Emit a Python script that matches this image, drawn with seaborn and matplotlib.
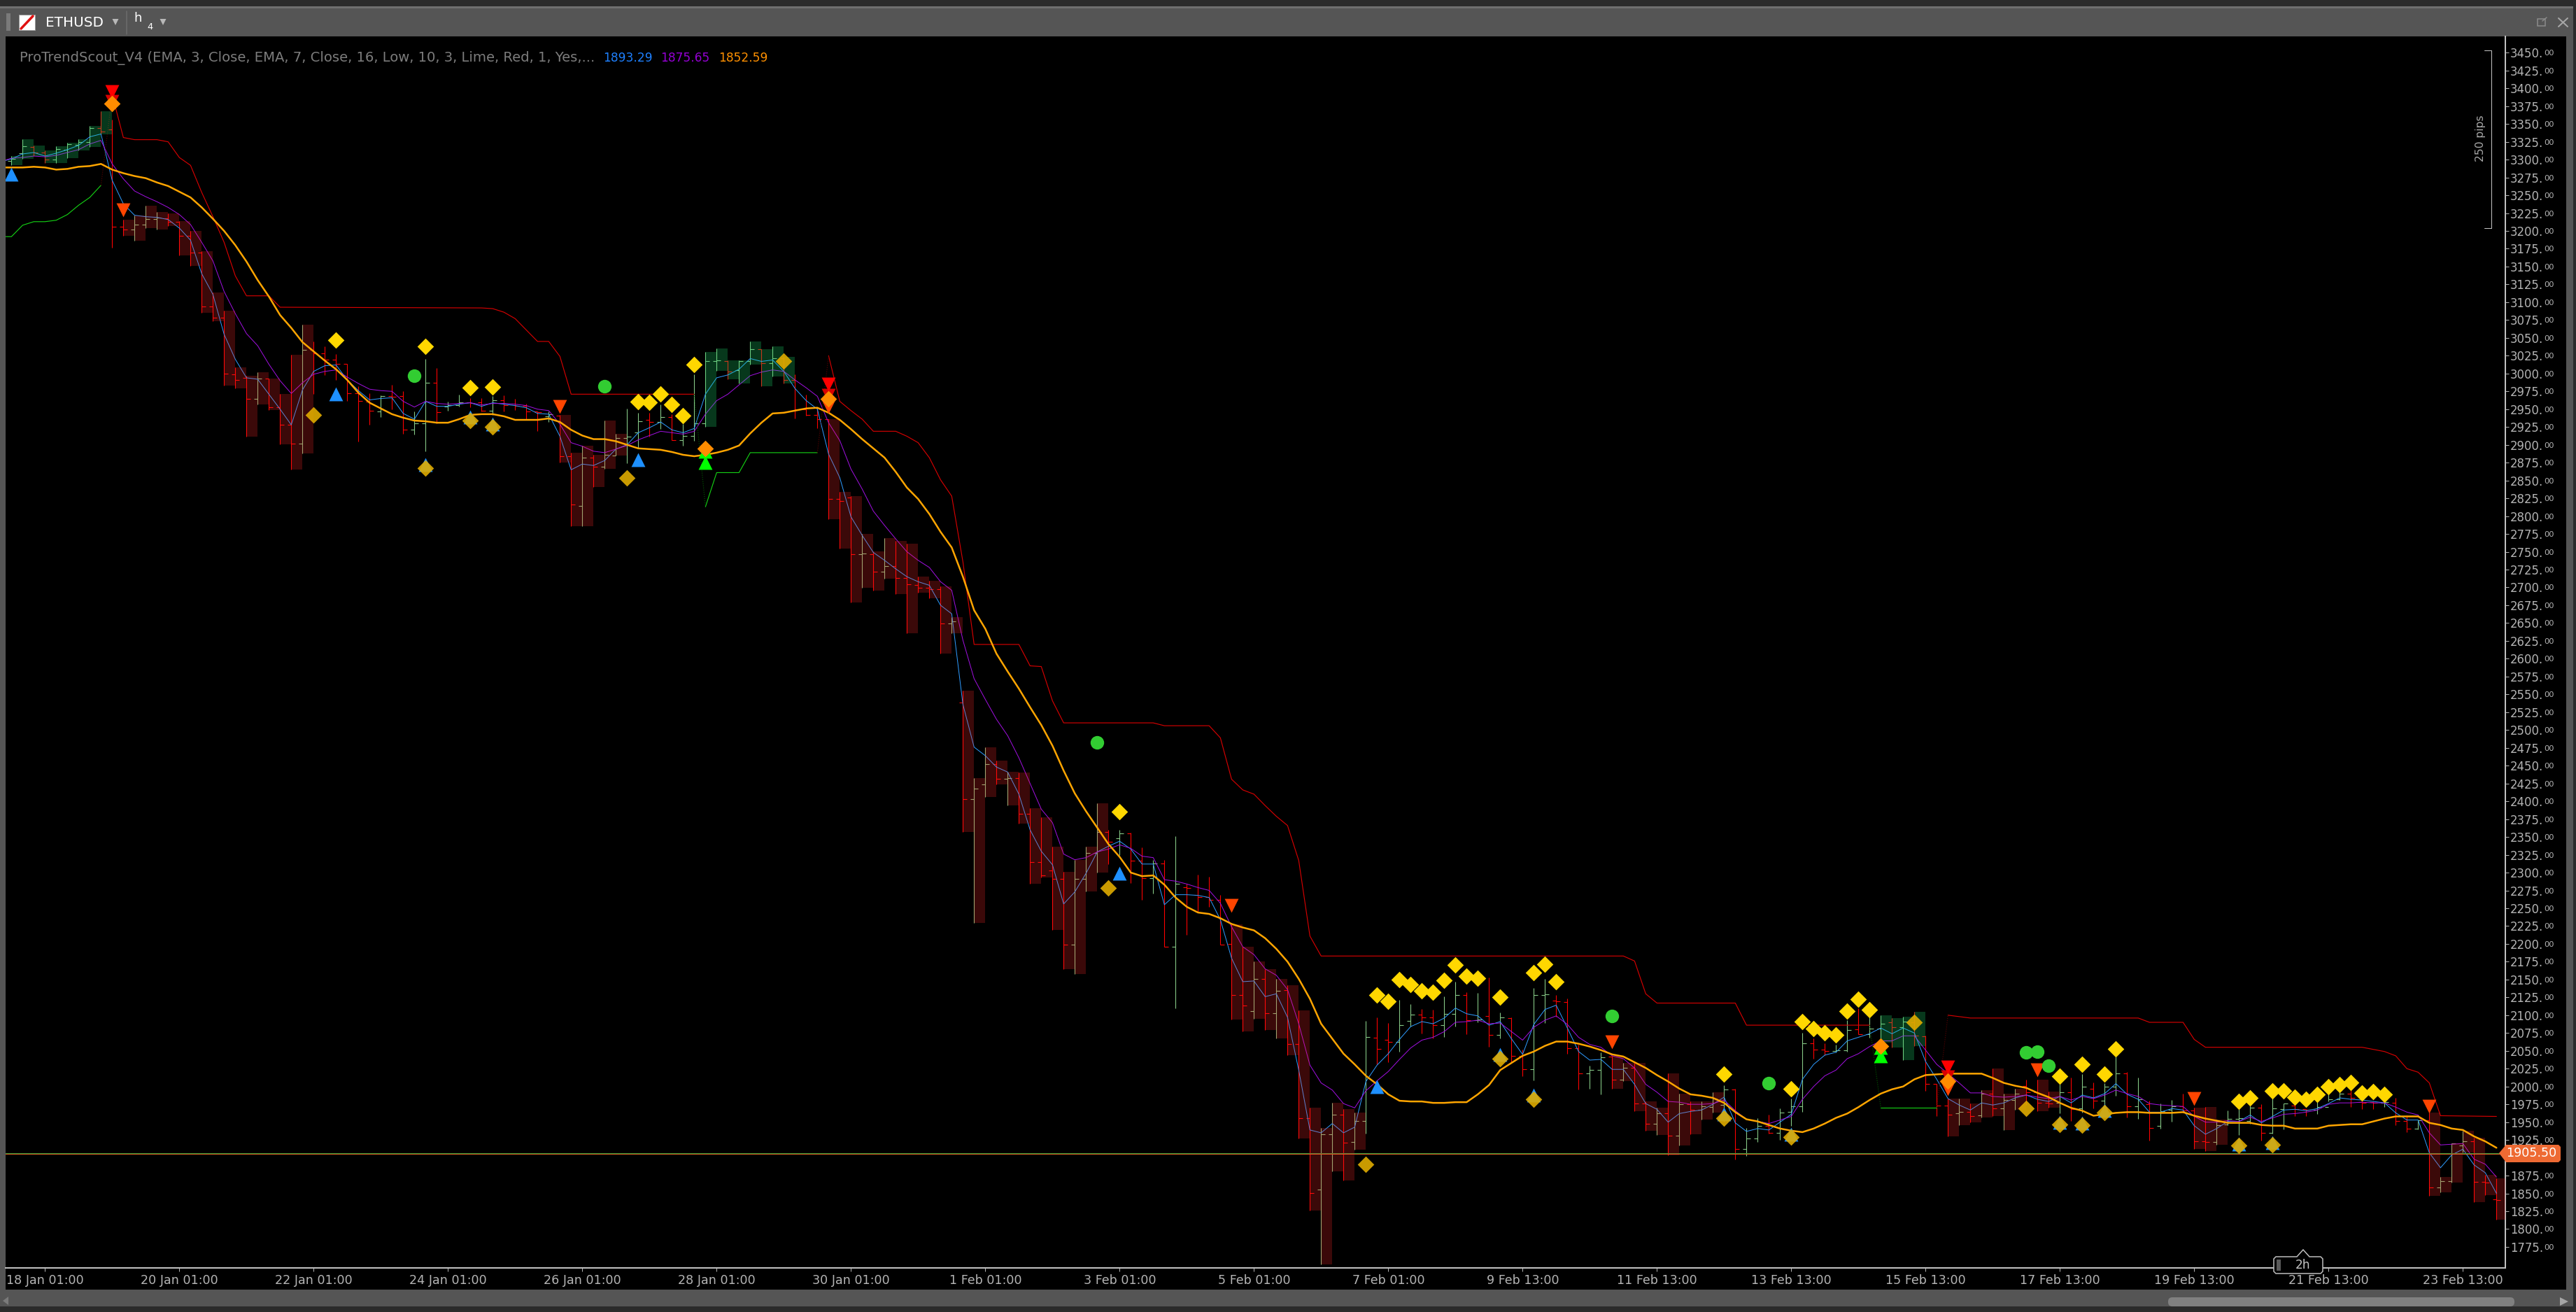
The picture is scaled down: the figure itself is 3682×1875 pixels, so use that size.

import numpy as np
import pandas as pd
import matplotlib.pyplot as plt
from matplotlib.patches import FancyBboxPatch, Polygon, Rectangle
import seaborn as sns

# one entry per 4h bar, oldest first
high = [
    3305, 3329, 3320, 3313, 3319, 3324, 3329, 3347, 3368, 3356,
    3216, 3222, 3235, 3227, 3225, 3214, 3200, 3172, 3114, 3088,
    3009, 2997, 3002, 2993, 2971, 3026, 3069, 3045, 3038, 3027,
    3014, 2982, 2972, 2969, 2984, 2975, 2947, 3020, 3008, 2961,
    2970, 2965, 2965, 2968, 2969, 2964, 2958, 2947, 2947, 2942,
    2889, 2899, 2886, 2934, 2915, 2951, 2945, 2945, 2957, 2943,
    2929, 2999, 3030, 3035, 3018, 3018, 3045, 3034, 3038, 3023,
    2999, 2970, 2952, 2936, 2834, 2828, 2775, 2751, 2769, 2765,
    2761, 2715, 2709, 2701, 2658, 2555, 2433, 2476, 2457, 2441,
    2440, 2390, 2378, 2336, 2301, 2318, 2336, 2397, 2360, 2360,
    2356, 2335, 2318, 2318, 2351, 2284, 2297, 2294, 2269, 2227,
    2196, 2175, 2165, 2151, 2142, 2107, 1970, 1942, 1977, 1968,
    1963, 2092, 2097, 2089, 2121, 2116, 2109, 2108, 2126, 2147,
    2132, 2131, 2153, 2104, 2097, 2052, 2138, 2151, 2128, 2123,
    2059, 2029, 2048, 2043, 2033, 2033, 1979, 1970, 2018, 1990,
    1979, 1979, 1992, 2002, 1997, 1942, 1956, 1960, 1969, 1983,
    2075, 2067, 2061, 2059, 2093, 2110, 2118, 2100, 2096, 2098,
    2105, 2071, 2004, 1983, 1983, 1976, 1995, 2025, 1990, 1997,
    2010, 2010, 1993, 2004, 2012, 2017, 2006, 2005, 2042, 2020,
    2012, 1980, 1976, 1981, 1990, 1970, 1971, 1954, 1966, 1968,
    1974, 1975, 1984, 1976, 1976, 1968, 1979, 2005, 2005, 2000,
    1979, 1979, 1979, 1984, 1959, 1953, 1963, 1873, 1920, 1938,
    1928, 1876, 1871,
]
low = [
    3292, 3301, 3305, 3295, 3295, 3302, 3313, 3318, 3335, 3176,
    3193, 3186, 3204, 3202, 3207, 3166, 3151, 3085, 3073, 2983,
    2979, 2911, 2957, 2949, 2901, 2865, 2888, 2971, 2998, 2991,
    2962, 2905, 2928, 2939, 2950, 2915, 2914, 2891, 2930, 2948,
    2954, 2953, 2947, 2942, 2947, 2949, 2936, 2919, 2932, 2875,
    2786, 2786, 2841, 2866, 2885, 2874, 2896, 2911, 2922, 2907,
    2899, 2906, 2925, 3004, 2992, 2986, 3013, 2982, 2996, 2986,
    2937, 2941, 2923, 2796, 2754, 2679, 2699, 2696, 2712, 2691,
    2636, 2693, 2685, 2607, 2636, 2357, 2229, 2406, 2424, 2394,
    2369, 2284, 2293, 2220, 2165, 2158, 2274, 2300, 2312, 2325,
    2285, 2262, 2271, 2196, 2110, 2213, 2245, 2252, 2199, 2094,
    2077, 2095, 2079, 2067, 2044, 1927, 1826, 1750, 1881, 1868,
    1911, 1934, 2031, 2034, 2049, 2084, 2074, 2067, 2069, 2084,
    2073, 2090, 2056, 2067, 2033, 2014, 2009, 2089, 2098, 2046,
    1996, 1997, 1989, 1997, 2008, 1965, 1938, 1932, 1904, 1917,
    1933, 1954, 1963, 1951, 1898, 1903, 1922, 1934, 1925, 1945,
    1964, 2039, 2044, 2048, 2049, 2073, 2068, 2062, 2055, 2037,
    2057, 1994, 1958, 1930, 1946, 1950, 1957, 1958, 1939, 1967,
    1974, 1965, 1970, 1962, 1952, 1963, 1969, 1968, 1987, 1957,
    1955, 1924, 1941, 1951, 1963, 1912, 1909, 1918, 1946, 1932,
    1948, 1924, 1934, 1940, 1958, 1958, 1961, 1979, 1981, 1971,
    1968, 1968, 1971, 1946, 1936, 1940, 1847, 1852, 1865, 1907,
    1838, 1848, 1813,
]
open_ = [
    3298, 3309, 3318, 3310, 3300, 3314, 3321, 3325, 3344, 3342,
    3206, 3202, 3209, 3217, 3218, 3213, 3193, 3170, 3094, 3078,
    2999, 2994, 2964, 2993, 2953, 2928, 2902, 3033, 3028, 3019,
    3014, 2972, 2961, 2947, 2968, 2968, 2921, 2930, 2987, 2954,
    2956, 2960, 2960, 2948, 2963, 2958, 2955, 2947, 2940, 2941,
    2884, 2814, 2882, 2869, 2885, 2910, 2917, 2935, 2932, 2939,
    2907, 2912, 2930, 3017, 3017, 3005, 3017, 3034, 3015, 3021,
    2991, 2950, 2942, 2936, 2824, 2826, 2747, 2747, 2722, 2730,
    2713, 2703, 2699, 2698, 2649, 2539, 2403, 2424, 2452, 2432,
    2433, 2382, 2315, 2303, 2291, 2199, 2291, 2328, 2357, 2348,
    2355, 2317, 2292, 2313, 2196, 2279, 2269, 2266, 2262, 2200,
    2128, 2106, 2151, 2103, 2135, 2060, 1956, 1855, 1933, 1960,
    1922, 1952, 2068, 2065, 2063, 2092, 2101, 2097, 2086, 2102,
    2128, 2093, 2099, 2072, 2096, 2043, 2024, 2128, 2120, 2118,
    2054, 2018, 2023, 2042, 2010, 2026, 1976, 1948, 1962, 1931,
    1975, 1967, 1971, 1974, 1996, 1912, 1927, 1945, 1935, 1964,
    1972, 2061, 2052, 2050, 2051, 2080, 2073, 2081, 2090, 2083,
    2090, 2070, 2004, 1973, 1962, 1964, 1959, 1990, 1969, 1981,
    2001, 1992, 1977, 1977, 1992, 1969, 1997, 1980, 2000, 2018,
    1972, 1975, 1945, 1967, 1972, 1966, 1923, 1922, 1947, 1955,
    1952, 1970, 1935, 1968, 1973, 1968, 1967, 1971, 1982, 1990,
    1978, 1978, 1977, 1977, 1952, 1941, 1953, 1858, 1867, 1917,
    1923, 1866, 1842,
]
close = [
    3301, 3319, 3310, 3300, 3315, 3322, 3325, 3344, 3339, 3206,
    3202, 3209, 3217, 3219, 3213, 3193, 3170, 3094, 3078, 3000,
    2991, 2964, 2993, 2953, 2928, 2902, 3033, 3028, 3019, 3014,
    2972, 2962, 2948, 2968, 2967, 2921, 2930, 2987, 2946, 2956,
    2960, 2959, 2948, 2963, 2956, 2955, 2947, 2946, 2943, 2884,
    2816, 2882, 2869, 2886, 2910, 2911, 2933, 2932, 2939, 2907,
    2912, 2930, 3017, 3018, 3003, 3017, 3034, 3015, 3021, 2991,
    2950, 2942, 2936, 2824, 2821, 2747, 2748, 2722, 2730, 2713,
    2704, 2699, 2698, 2649, 2652, 2403, 2418, 2452, 2432, 2433,
    2382, 2315, 2296, 2291, 2199, 2291, 2328, 2357, 2343, 2355,
    2317, 2292, 2313, 2196, 2284, 2278, 2266, 2262, 2199, 2128,
    2114, 2151, 2103, 2134, 2060, 1956, 1851, 1933, 1960, 1921,
    1952, 2069, 2053, 2063, 2086, 2101, 2097, 2086, 2102, 2128,
    2093, 2094, 2072, 2097, 2043, 2024, 2128, 2129, 2119, 2054,
    2018, 2023, 2041, 2010, 2026, 1976, 1948, 1962, 1931, 1975,
    1967, 1972, 1983, 1996, 1912, 1927, 1945, 1935, 1963, 1972,
    2061, 2052, 2050, 2051, 2079, 2073, 2081, 2088, 2083, 2091,
    2071, 2004, 1973, 1960, 1964, 1958, 1990, 1969, 1981, 1990,
    1992, 1977, 1976, 1992, 1968, 2000, 1980, 2000, 2018, 1972,
    1982, 1942, 1965, 1972, 1966, 1923, 1922, 1946, 1955, 1956,
    1970, 1935, 1969, 1976, 1968, 1967, 1971, 1982, 1990, 1984,
    1977, 1977, 1978, 1952, 1941, 1953, 1858, 1867, 1920, 1923,
    1866, 1865, 1841,
]

# bars that carry the shaded trend box
green_boxes = list(range(0, 9)) + list(range(62, 70)) + list(range(167, 171))
red_boxes = (
    list(range(10, 27)) + list(range(49, 55)) + list(range(73, 98))
    + list(range(109, 121)) + list(range(143, 153)) + list(range(173, 180))
    + [181, 182, 195, 196, 197] + list(range(216, 223))
)

# moving averages, first value sits just left of bar 0
ema3 = [
    3297,
    3301, 3308, 3310, 3305, 3309, 3314, 3320, 3332, 3336, 3271,
    3238, 3222, 3220, 3219, 3216, 3204, 3187, 3140, 3111, 3055,
    3020, 2994, 2992, 2971, 2950, 2928, 2977, 3003, 3011, 3012,
    2991, 2976, 2963, 2965, 2966, 2944, 2936, 2961, 2954, 2954,
    2957, 2959, 2954, 2959, 2957, 2955, 2952, 2944, 2943, 2912,
    2865, 2873, 2871, 2878, 2894, 2900, 2917, 2924, 2932, 2921,
    2917, 2923, 2971, 2994, 2998, 3006, 3021, 3017, 3019, 3003,
    2979, 2962, 2950, 2887, 2854, 2799, 2773, 2749, 2738, 2726,
    2715, 2708, 2703, 2675, 2663, 2536, 2476, 2464, 2448, 2441,
    2410, 2360, 2330, 2311, 2256, 2273, 2299, 2329, 2337, 2344,
    2333, 2312, 2312, 2255, 2269, 2269, 2268, 2265, 2234, 2180,
    2147, 2148, 2126, 2130, 2097, 2023, 1939, 1935, 1948, 1935,
    1943, 2007, 2030, 2046, 2066, 2084, 2091, 2088, 2096, 2110,
    2102, 2099, 2086, 2091, 2067, 2045, 2087, 2108, 2114, 2082,
    2049, 2037, 2038, 2024, 2024, 2003, 1976, 1968, 1950, 1962,
    1965, 1967, 1975, 1985, 1949, 1937, 1941, 1939, 1950, 1961,
    2010, 2031, 2044, 2048, 2064, 2069, 2074, 2082, 2074, 2082,
    2075, 2035, 2010, 1983, 1974, 1967, 1977, 1974, 1977, 1984,
    1988, 1982, 1979, 1986, 1977, 1988, 1984, 1990, 2004, 1989,
    1982, 1964, 1964, 1969, 1967, 1945, 1933, 1941, 1951, 1951,
    1960, 1949, 1958, 1967, 1968, 1966, 1969, 1976, 1984, 1982,
    1981, 1979, 1977, 1963, 1953, 1953, 1907, 1886, 1904, 1912,
    1890, 1879, 1850,
]
ema7 = [
    3297,
    3302, 3303, 3305, 3304, 3306, 3310, 3314, 3322, 3327, 3294,
    3273, 3256, 3248, 3241, 3233, 3223, 3209, 3184, 3158, 3115,
    3084, 3056, 3039, 3013, 2990, 2972, 2987, 2999, 3003, 3005,
    2995, 2986, 2978, 2976, 2975, 2961, 2953, 2961, 2958, 2957,
    2958, 2959, 2956, 2958, 2958, 2957, 2955, 2950, 2948, 2929,
    2903, 2898, 2891, 2889, 2894, 2899, 2907, 2913, 2919, 2917,
    2915, 2919, 2943, 2962, 2971, 2984, 2997, 3002, 3005, 3003,
    2991, 2980, 2968, 2931, 2906, 2866, 2838, 2807, 2787, 2768,
    2750, 2738, 2728, 2708, 2696, 2626, 2572, 2543, 2515, 2492,
    2461, 2425, 2389, 2370, 2326, 2318, 2321, 2329, 2333, 2339,
    2334, 2323, 2321, 2290, 2288, 2284, 2279, 2275, 2257, 2224,
    2196, 2185, 2165, 2156, 2136, 2088, 2030, 2005, 1995, 1976,
    1970, 1994, 2008, 2021, 2038, 2054, 2065, 2069, 2077, 2090,
    2091, 2093, 2088, 2089, 2077, 2065, 2083, 2093, 2099, 2087,
    2069, 2059, 2055, 2043, 2039, 2026, 2003, 1992, 1979, 1978,
    1975, 1975, 1976, 1981, 1966, 1954, 1951, 1948, 1953, 1958,
    1982, 2000, 2015, 2023, 2039, 2046, 2056, 2064, 2064, 2071,
    2071, 2051, 2031, 2018, 2005, 1991, 1991, 1986, 1985, 1986,
    1988, 1985, 1983, 1986, 1981, 1986, 1983, 1988, 1995, 1990,
    1986, 1976, 1974, 1973, 1972, 1958, 1950, 1950, 1952, 1951,
    1957, 1951, 1956, 1961, 1962, 1964, 1967, 1975, 1977, 1977,
    1978, 1977, 1977, 1971, 1964, 1960, 1935, 1918, 1919, 1920,
    1898, 1891, 1873,
]
ema16 = [
    3289,
    3289, 3289, 3290, 3289, 3286, 3287, 3290, 3291, 3294, 3286,
    3281, 3277, 3274, 3268, 3263, 3255, 3247, 3233, 3217, 3200,
    3180, 3157, 3131, 3108, 3082, 3064, 3044, 3031, 3018, 3006,
    2991, 2973, 2959, 2951, 2943, 2938, 2934, 2933, 2931, 2931,
    2936, 2942, 2943, 2943, 2940, 2935, 2935, 2935, 2937, 2932,
    2921, 2913, 2908, 2908, 2905, 2900, 2895, 2894, 2893, 2890,
    2886, 2884, 2886, 2889, 2893, 2899, 2916, 2931, 2944, 2945,
    2948, 2951, 2952, 2945, 2935, 2922, 2908, 2895, 2882, 2862,
    2840, 2824, 2803, 2778, 2756, 2715, 2668, 2642, 2607, 2582,
    2558, 2532, 2507, 2478, 2443, 2411, 2386, 2363, 2340, 2322,
    2300, 2295, 2296, 2283, 2265, 2252, 2244, 2242, 2236, 2228,
    2223, 2219, 2208, 2193, 2175, 2151, 2123, 2088, 2067, 2046,
    2031, 2015, 2003, 1989, 1980, 1979, 1979, 1977, 1977, 1978,
    1978, 1989, 2002, 2023, 2033, 2043, 2049, 2057, 2063, 2063,
    2060, 2056, 2051, 2045, 2042, 2034, 2026, 2016, 2007, 1997,
    1989, 1987, 1984, 1977, 1964, 1954, 1951, 1946, 1941, 1938,
    1936, 1941, 1948, 1956, 1962, 1971, 1981, 1990, 1996, 2000,
    2010, 2016, 2017, 2018, 2018, 2018, 2018, 2012, 2005, 2001,
    1998, 1991, 1985, 1977, 1970, 1966, 1959, 1961, 1963, 1964,
    1964, 1963, 1963, 1963, 1964, 1959, 1955, 1952, 1949, 1949,
    1949, 1946, 1945, 1945, 1941, 1941, 1941, 1945, 1946, 1947,
    1947, 1951, 1955, 1958, 1958, 1958, 1949, 1946, 1941, 1939,
    1930, 1923, 1914,
]

# trailing stop, drawn in pieces because it flips side
stop_red_bars = [
    [9, 10, 11, 13, 14, 15, 16, 17, 18, 19, 20, 21, 23, 24, 42, 43, 44, 45, 46, 47, 48, 49, 50, 61],
    [73, 74, 75, 76, 77, 79, 80, 81, 82, 83, 84, 85, 86, 90, 91, 92, 93, 94, 102, 103, 107, 108,
     109, 110, 111, 112, 113, 114, 115, 116, 117, 144, 145, 146, 147, 154, 155, 166],
    [173, 175, 190, 191, 194, 195, 196, 210, 212, 213, 214, 215, 216, 217, 222],
]
stop_red_vals = [
    [3391, 3331, 3328, 3328, 3325, 3303, 3292, 3254, 3220, 3184, 3137, 3109, 3109, 3093, 3092, 3091,
     3086, 3077, 3061, 3045, 3045, 3024, 2971, 2971],
    [3025, 2961, 2948, 2936, 2919, 2919, 2912, 2903, 2882, 2851, 2828, 2736, 2620, 2620, 2590, 2589,
     2541, 2510, 2510, 2506, 2506, 2489, 2431, 2416, 2410, 2394, 2379, 2366, 2317, 2211, 2183, 2183,
     2176, 2130, 2117, 2117, 2086, 2086],
    [2100, 2096, 2096, 2090, 2090, 2066, 2055, 2055, 2049, 2043, 2025, 2020, 2005, 1959, 1958],
]
stop_lime_bars = [[-1, 0, 1, 2, 3, 4, 5, 6, 7, 8], [62, 63, 65, 66, 72], [167, 172]]
stop_lime_vals = [
    [3192, 3192, 3208, 3213, 3213, 3215, 3223, 3236, 3247, 3264],
    [2813, 2861, 2861, 2889, 2889],
    [1970, 1970],
]
flip_bars = [[8, 9], [61, 62], [72, 73], [166, 167], [172, 173]]
flip_vals = [[3264, 3391], [2971, 2813], [2889, 3025], [2086, 1970], [1970, 2100]]
flip_colors = ["#5a0000", "#005a00", "#5a0000", "#005a00", "#5a0000"]

# signal markers
yellow_bars = [29, 37, 41, 43, 56, 57, 58, 59, 60, 61, 99, 122, 123, 124, 125, 126, 127, 128, 129, 130,
               131, 133, 136, 137, 138, 153, 159, 160, 161, 162, 163, 164, 165, 166, 183, 185, 187, 188,
               199, 200, 202, 203, 204, 205, 206, 207, 208, 209, 210, 211, 212]
yellow_vals = [3047, 3038, 2980, 2981, 2961, 2960, 2971, 2957, 2941, 3013, 2385, 2128, 2119, 2150, 2143,
               2134, 2132, 2149, 2170, 2155, 2152, 2125, 2160, 2171, 2147, 2017, 1997, 2091, 2081, 2075,
               2072, 2106, 2122, 2108, 2014, 2031, 2017, 2053, 1979, 1984, 1994, 1994, 1985, 1982, 1989,
               2000, 2003, 2006, 1991, 1993, 1989]
gold_bars = [27, 37, 41, 43, 55, 69, 98, 121, 133, 136, 153, 159, 170, 180, 183, 185, 187, 199, 202]
gold_vals = [2942, 2867, 2934, 2925, 2854, 3017, 2278, 1891, 2039, 1982, 1956, 1929, 2090, 1969, 1947,
             1946, 1963, 1917, 1918]
blue_up_bars = [0, 29, 37, 41, 43, 56, 99, 122, 133, 136, 153, 159, 183, 185, 187, 199, 202]
blue_up_vals = [3280, 2971, 2872, 2939, 2929, 2879, 2299, 2000, 2045, 1988, 1961, 1933, 1950, 1949, 1966,
                1919, 1921]
lime_up_bars = [62, 62, 167, 167]
lime_up_vals = [2891, 2875, 2055, 2043]
red_down_bars = [9, 73, 173]
red_down_vals = [3395, 2985, 2027]
dark_down_bars = [9, 73, 173]
dark_down_vals = [3382, 2969, 2013]
orange_bars = [9, 62, 73, 167, 173]
orange_vals = [3379, 2895, 2964, 2057, 2008]
orangered_bars = [10, 49, 73, 109, 143, 173, 181, 195, 216]
orangered_vals = [3229, 2954, 2954, 2254, 2063, 1997, 2023, 1983, 1972]
circle_bars = [36, 53, 97, 143, 157, 180, 181, 182]
circle_vals = [2997, 2982, 2483, 2099, 2005, 2048, 2049, 2029]

last_price = 1905.5
y_ticks = list(range(1775, 3475, 25))
x_tick_bars = list(range(3, 220, 12))
x_tick_labels = [
    "18 Jan 01:00", "20 Jan 01:00", "22 Jan 01:00", "24 Jan 01:00", "26 Jan 01:00",
    "28 Jan 01:00", "30 Jan 01:00", "1 Feb 01:00", "3 Feb 01:00", "5 Feb 01:00",
    "7 Feb 01:00", "9 Feb 13:00", "11 Feb 13:00", "13 Feb 13:00", "15 Feb 13:00",
    "17 Feb 13:00", "19 Feb 13:00", "21 Feb 13:00", "23 Feb 13:00",
]
legend_values = ["1893.29", "1875.65", "1852.59"]

W, H = 3682, 1875
CHROME = "#555555"
TICK_GREY = "#b4b4b4"


def px(size):
    """Font size or line width given in screen pixels."""
    return size * 0.72


def draw_stop(ax, bars, vals, color, lw=px(1.15), ls="-"):
    sns.lineplot(x=bars, y=vals, estimator=None, sort=False, errorbar=None, legend=False,
                 color=color, linewidth=lw, linestyle=ls, zorder=3, ax=ax)


def draw_marks(ax, bars, vals, marker, size, color, zorder, alpha=1.0):
    sns.scatterplot(x=bars, y=vals, marker=marker, s=size, color=color, linewidth=0,
                    alpha=alpha, legend=False, zorder=zorder, ax=ax)


sns.set_theme(style="dark")
plt.rcParams["font.family"] = ["DejaVu Sans"]

fig = plt.figure(figsize=(W / 100, H / 100), dpi=100, facecolor="#2b2b2b")

# window frame behind the chart
frame = fig.add_axes([0, 0, 1, 1], zorder=0)
frame.set_xlim(0, W)
frame.set_ylim(H, 0)
frame.axis("off")
frame.add_patch(Rectangle((0, 9), 3678, 1858, color=CHROME, lw=0))
frame.add_patch(Rectangle((0, 9), 3678, 3, color="#6f6f6f", lw=0))
frame.add_patch(Rectangle((8, 52), 3660, 1791, color="black", lw=0))

ax = fig.add_axes([8 / W, (H - 1812) / H, 3573 / W, 1760 / H], zorder=1)
ax.set_facecolor("black")

bars = pd.DataFrame({"open": open_, "high": high, "low": low, "close": close})
bars["up"] = bars["close"] >= bars["open"]
colors = np.where(bars["up"], "#86c886", "#ff0000")
idx = bars.index.to_numpy()

ax.vlines(idx, bars["low"], bars["high"], colors=colors, linewidth=px(1.1), zorder=2)
ax.hlines(bars["open"], idx - 0.33, idx, colors=colors, linewidth=px(1.1), zorder=2)
ax.hlines(bars["close"], idx, idx + 0.33, colors=colors, linewidth=px(1.1), zorder=2)

line_bars = np.arange(-1, len(bars))
sns.lineplot(x=line_bars, y=ema3, estimator=None, errorbar=None, legend=False,
             color="#2e9bff", linewidth=px(1.0), zorder=3, ax=ax)
sns.lineplot(x=line_bars, y=ema7, estimator=None, errorbar=None, legend=False,
             color="#a010e0", linewidth=px(1.0), zorder=3, ax=ax)

for seg_bars, seg_vals in zip(stop_red_bars, stop_red_vals):
    draw_stop(ax, seg_bars, seg_vals, "#d80000")
for seg_bars, seg_vals in zip(stop_lime_bars, stop_lime_vals):
    draw_stop(ax, seg_bars, seg_vals, "#14d014")
for seg_bars, seg_vals, seg_color in zip(flip_bars, flip_vals, flip_colors):
    draw_stop(ax, seg_bars, seg_vals, seg_color, ls=":")

# translucent boxes go over the wicks and thin averages, that's what dims them
red = bars.loc[red_boxes]
green = bars.loc[green_boxes]
ax.bar(red.index, red["high"] - red["low"], bottom=red["low"], width=1, align="edge",
       color="#ff2a2a", alpha=0.235, linewidth=0, zorder=4)
ax.bar(green.index, green["high"] - green["low"], bottom=green["low"], width=1, align="edge",
       color="#1ee070", alpha=0.25, linewidth=0, zorder=4)

sns.lineplot(x=line_bars, y=ema16, estimator=None, errorbar=None, legend=False,
             color="#ffa500", linewidth=px(2.5), zorder=5, ax=ax)

draw_stop(ax, [-1, 223], [last_price + 1, last_price + 1], "#2f9a3a", lw=px(1.0))
draw_stop(ax, [-1, 223], [last_price, last_price], "#e0601e", lw=px(1.0))

draw_marks(ax, blue_up_bars, blue_up_vals, "^", 205, "#1e90ff", 6)
draw_marks(ax, lime_up_bars, lime_up_vals, "^", 205, "#00ff00", 6)
draw_marks(ax, orangered_bars, orangered_vals, "v", 205, "#ff4500", 6)
draw_marks(ax, dark_down_bars, dark_down_vals, "v", 205, "#d80000", 6)
draw_marks(ax, red_down_bars, red_down_vals, "v", 205, "#ff0000", 7)
draw_marks(ax, circle_bars, circle_vals, "o", 195, "#32cd32", 7)
draw_marks(ax, gold_bars, gold_vals, "D", 145, "#e0ac00", 8, alpha=0.9)
draw_marks(ax, yellow_bars, yellow_vals, "D", 145, "#ffd700", 8)
draw_marks(ax, orange_bars, orange_vals, "D", 145, "#ff8c00", 9)

ax.set_xlim((8 - 16.33) / 16, (3581 - 16.33) / 16)
ax.set_ylim(3450 - 1736.7 / 1.0189, 3450 + 23.3 / 1.0189)
ax.set_xlabel("")
ax.set_ylabel("")
ax.grid(False)

# the 1900 label sits under the last price tag, so it stays blank like on screen
ax.yaxis.tick_right()
ax.set_yticks(y_ticks)
ax.set_yticklabels(["" if v == 1900 else f"{v}." for v in y_ticks])
ax.set_xticks(x_tick_bars)
ax.set_xticklabels(x_tick_labels)
ax.tick_params(axis="y", length=px(5), width=px(1), color=TICK_GREY, labelcolor=TICK_GREY,
               labelsize=px(16.5), pad=px(2), right=True, left=False)
ax.tick_params(axis="x", length=px(5), width=px(1), color=TICK_GREY, labelcolor=TICK_GREY,
               labelsize=px(17.5), pad=px(4), bottom=True)
for side in ("left", "top"):
    ax.spines[side].set_visible(False)
for side in ("right", "bottom"):
    ax.spines[side].set_color("#c0c0c0")
    ax.spines[side].set_linewidth(px(2))

for v in y_ticks:
    if v != 1900:
        ax.text((3636 - 8) / 3573, v, "00", transform=ax.get_yaxis_transform(), color=TICK_GREY,
                fontsize=px(11.5), ha="left", va="center_baseline", clip_on=False)

# everything that sits on top of the chart, in screen coordinates
top = fig.add_axes([0, 0, 1, 1], zorder=2)
top.set_xlim(0, W)
top.set_ylim(H, 0)
top.axis("off")
top.patch.set_alpha(0)

top.text(28, 83, "ProTrendScout_V4 (EMA, 3, Close, EMA, 7, Close, 16, Low, 10, 3, Lime, Red, 1, Yes,...",
         color="#7c7c7c", fontsize=px(19.6), ha="left", va="center")
for x_pos, value, color in zip([862, 944, 1027], legend_values, ["#1e80ff", "#9400d3", "#ff9000"]):
    top.text(x_pos, 83, value, color=color, fontsize=px(17), ha="left", va="center")

# toolbar
top.add_patch(Rectangle((27, 21), 23, 22, facecolor="white", edgecolor="#999999", lw=0.7))
top.plot([47, 30], [23, 41], color="#e01010", lw=px(3.5))
top.add_patch(Rectangle((9, 19), 6, 25, facecolor="#7a7a7a", lw=0))
top.text(65, 33, "ETHUSD", color="white", fontsize=px(20), ha="left", va="center")
top.plot([181, 181], [16, 49], color="#6c6c6c", lw=px(1.5))
top.text(191, 26, "h", color="white", fontsize=px(18), ha="left", va="center")
top.text(210, 38, "4", color="white", fontsize=px(13), ha="left", va="center")
for x_pos in (165, 233):
    top.add_patch(Polygon([[x_pos - 4.5, 27], [x_pos + 4.5, 27], [x_pos, 36]], color="#b8b8b8", lw=0))
top.add_patch(Rectangle((3627, 27), 11, 10, facecolor="none", edgecolor="#8c8c8c", lw=px(1.5)))
top.plot([3634, 3640], [30, 25], color="#8c8c8c", lw=px(1.5))
top.plot([3657, 3670], [26, 38], color="#a8a8a8", lw=px(2))
top.plot([3657, 3670], [38, 26], color="#a8a8a8", lw=px(2))

# measuring bracket
top.plot([3551, 3561, 3561, 3551], [72, 72, 326, 326], color="#c4c4c4", lw=px(1))
top.text(3546, 198, "250 pips", color="#a8a8a8", fontsize=px(15.5), rotation=90, ha="center", va="center")

# last price tag
top.add_patch(Polygon([[3572, 1648], [3582, 1636], [3657, 1636], [3660, 1639], [3660, 1658],
                       [3657, 1661], [3582, 1661]], color="#ee6a33", lw=0))
top.text(3618, 1648, "1905.50", color="white", fontsize=px(17.5), ha="center", va="center")

# period tab on the x axis
top.add_patch(Polygon([[3250, 1799], [3253, 1796], [3283, 1796], [3292, 1786], [3301, 1796], [3317, 1796],
                       [3320, 1799], [3320, 1817], [3317, 1820], [3253, 1820], [3250, 1817]],
                      facecolor="black", edgecolor="#c0c0c0", lw=px(1.5)))
top.add_patch(Rectangle((3254, 1800), 6, 16, facecolor="#5a5a5a", lw=0))
top.text(3292, 1808, "2h", color="#c4c4c4", fontsize=px(17), ha="center", va="center")

# scrollbar
top.add_patch(FancyBboxPatch((3099, 1854), 495, 13, boxstyle="round,pad=0,rounding_size=6",
                             facecolor="#808080", lw=0, mutation_aspect=1))
top.add_patch(Polygon([[3659, 1854], [3659, 1866], [3671, 1860]], color="#a6a6a6", lw=0))
top.add_patch(Polygon([[12, 1853], [12, 1865], [4, 1859]], color="#7a7a7a", lw=0))

fig.savefig("out.png", dpi=100, facecolor=fig.get_facecolor())
plt.close(fig)
